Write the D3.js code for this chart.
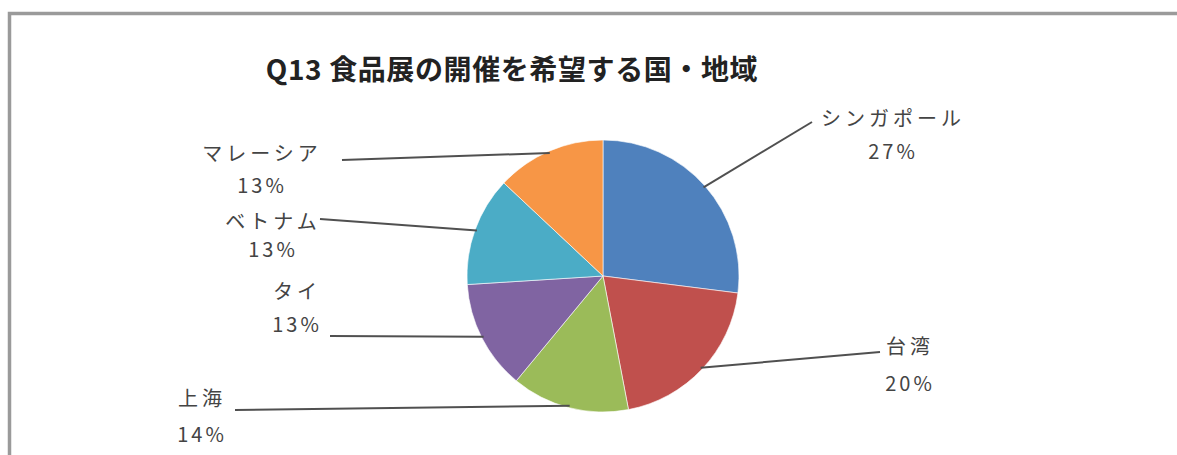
<!DOCTYPE html>
<html>
<head>
<meta charset="utf-8">
<script src="https://cdn.jsdelivr.net/npm/d3@7"></script>
<style>
  html, body { margin: 0; padding: 0; background: #fff; }
  svg { display: block; }
</style>
</head>
<body>
<svg id="chart" width="1177" height="455"></svg>
<script>
// ---- data ----
const categories = ["シンガポール", "台湾", "上海", "タイ", "ベトナム", "マレーシア"];
const values = [27, 20, 14, 13, 13, 13];
const percentLabels = ["27%", "20%", "14%", "13%", "13%", "13%"];
const colors = ["#4F81BD", "#C0504D", "#9BBB59", "#8064A2", "#4BACC6", "#F79646"];
const title = "Q13 食品展の開催を希望する国・地域";

// ---- layout (label anchors: line end, text centre, line1 y, line2 y) ----
const labelLayout = [
  { lx: 812, ly: 122, tx: 893, y1: 117, y2: 150 },
  { lx: 880, ly: 352, tx: 910, y1: 345, y2: 382 },
  { lx: 235, ly: 410, tx: 202, y1: 397, y2: 433 },
  { lx: 330, ly: 336, tx: 297, y1: 290, y2: 323 },
  { lx: 320, ly: 219, tx: 273, y1: 220, y2: 248 },
  { lx: 342, ly: 160, tx: 262, y1: 152, y2: 184 }
];

const svg = d3.select("#chart");
const W = 1177, H = 455;

// frame
svg.append("rect")
  .attr("x", 9.5).attr("y", 13.5)
  .attr("width", W + 20).attr("height", H + 20)
  .attr("fill", "#fff")
  .attr("stroke", "#9a9a9a")
  .attr("stroke-width", 3.5);

// title
svg.append("text")
  .attr("x", 512).attr("y", 68)
  .attr("text-anchor", "middle")
  .attr("dominant-baseline", "central")
  .attr("font-family", "'Noto Sans CJK JP', sans-serif")
  .attr("font-weight", "bold")
  .attr("font-size", 28)
  .attr("letter-spacing", 0.6)
  .attr("fill", "#222")
  .text(title);

// pie
const cx = 603, cy = 276, R = 136;
const pie = d3.pie().sort(null).value(d => d)(values);
const arc = d3.arc().innerRadius(0).outerRadius(R);
const g = svg.append("g").attr("transform", `translate(${cx},${cy})`);

g.selectAll("path.slice")
  .data(pie)
  .join("path")
  .attr("class", "slice")
  .attr("d", arc)
  .attr("fill", (d, i) => colors[i])
  .attr("stroke", "#ffffff")
  .attr("stroke-width", 0.6);

// leader lines
const edgeArc = d3.arc().innerRadius(R - 2).outerRadius(R - 2);
svg.append("g").selectAll("line")
  .data(pie)
  .join("line")
  .attr("x1", d => cx + edgeArc.centroid(d)[0])
  .attr("y1", d => cy + edgeArc.centroid(d)[1])
  .attr("x2", (d, i) => labelLayout[i].lx)
  .attr("y2", (d, i) => labelLayout[i].ly)
  .attr("stroke", "#505050")
  .attr("stroke-width", 2);

// labels
const lab = svg.append("g")
  .attr("font-family", "'Noto Sans CJK JP', sans-serif")
  .attr("font-size", 20)
  .attr("fill", "#444")
  .attr("text-anchor", "middle");

categories.forEach((c, i) => {
  const L = labelLayout[i];
  lab.append("text")
    .attr("x", L.tx).attr("y", L.y1)
    .attr("dominant-baseline", "central")
    .attr("letter-spacing", 4)
    .text(c);
  lab.append("text")
    .attr("x", L.tx).attr("y", L.y2)
    .attr("dominant-baseline", "central")
    .attr("letter-spacing", 3)
    .text(percentLabels[i]);
});
</script>
</body>
</html>
